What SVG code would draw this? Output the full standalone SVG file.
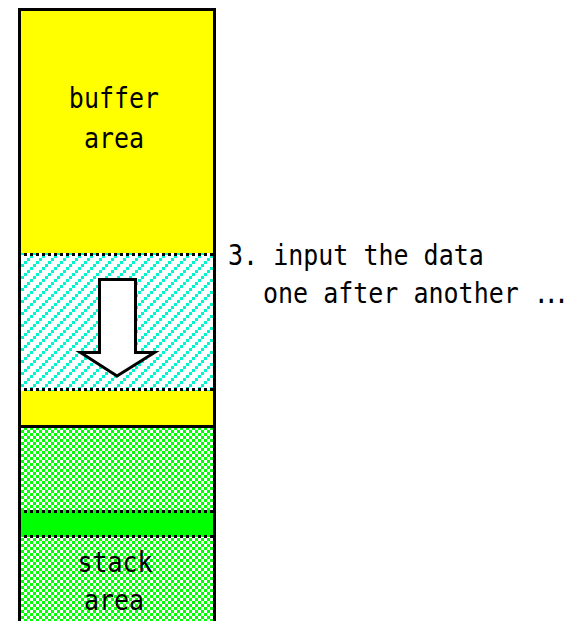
<svg xmlns="http://www.w3.org/2000/svg" width="572" height="621" viewBox="0 0 572 621">
  <defs>
    <!-- diagonal cyan hatching on white -->
    <pattern id="hatch" x="0" y="0" width="12" height="12" patternUnits="userSpaceOnUse">
      <rect width="12" height="12" fill="#ffffff"/>
      <g fill="#00f5cf">
        <rect x="0" y="9" width="3" height="3"/>
        <rect x="3" y="6" width="3" height="3"/>
        <rect x="6" y="3" width="3" height="3"/>
        <rect x="9" y="0" width="3" height="3"/>
      </g>
    </pattern>
    <!-- green / white checker -->
    <pattern id="checker" x="0" y="1" width="6" height="6" patternUnits="userSpaceOnUse">
      <rect width="6" height="6" fill="#ffffff"/>
      <g fill="#00ff00">
        <rect x="0" y="0" width="3" height="3"/>
        <rect x="3" y="3" width="3" height="3"/>
      </g>
    </pattern>
  </defs>
  <style>
    .label { font-family: "DejaVu Sans Mono", "Liberation Mono", monospace; font-size: 25px; fill: #000000; }
    .mid { text-anchor: middle; }
    .dots { fill: none; stroke: #000000; stroke-width: 3; stroke-dasharray: 3 3; }
    .vdots { fill: none; stroke: #000000; stroke-width: 3; stroke-dasharray: 4 4; }
    .edge { fill: none; stroke: #000000; stroke-width: 3; }
  </style>

  <rect width="572" height="621" fill="#ffffff"/>

  <!-- upper part of the memory column -->
  <g id="buffer-area">
    <rect x="21" y="11" width="192" height="414" fill="#ffff00"/>
    <text class="label mid" transform="translate(114,108) scale(1,1.12)">buffer</text>
    <text class="label mid" transform="translate(114,148) scale(1,1.12)">area</text>
  </g>

  <!-- region being filled with incoming data -->
  <g id="input-region">
    <rect x="18" y="253" width="195" height="138" fill="url(#hatch)"/>
    <line class="dots" x1="18" y1="254.5" x2="213" y2="254.5"/>
    <line class="dots" x1="18" y1="389.5" x2="213" y2="389.5"/>
  </g>

  <!-- lower part of the memory column -->
  <g id="stack-area">
    <rect x="21" y="428" width="192" height="193" fill="url(#checker)"/>
    <text class="label mid" transform="translate(115,572) scale(1,1.12)">stack</text>
    <text class="label mid" transform="translate(114,610) scale(1,1.12)">area</text>
  </g>

  <!-- solid band inside the stack area -->
  <g id="used-band">
    <rect x="18" y="510" width="195" height="27" fill="#00ff00"/>
    <line class="dots" x1="18" y1="511.5" x2="213" y2="511.5"/>
    <line class="dots" x1="18" y1="536.5" x2="213" y2="536.5"/>
  </g>

  <!-- column outline -->
  <g id="column-frame">
    <path class="edge" d="M19.5,621 V253 M19.5,391 V510 M19.5,538 V621"/>
    <path class="edge" d="M19.5,253 V9.5 H214.5 V621"/>
    <line class="vdots" x1="19.5" y1="256" x2="19.5" y2="388"/>
    <line class="vdots" x1="19.5" y1="512" x2="19.5" y2="536"/>
    <line class="edge" x1="18" y1="426.5" x2="216" y2="426.5"/>
  </g>

  <!-- downward arrow showing fill direction -->
  <g id="connectors">
    <polygon points="99.5,279.5 135.5,279.5 135.5,352.5 154.5,352.5 117,376 80.5,352.5 99.5,352.5"
             fill="#ffffff" stroke="#000000" stroke-width="3" stroke-linejoin="miter"/>
  </g>

  <!-- side note -->
  <g id="caption">
    <text class="label" transform="translate(228,265) scale(1,1.12)">3. input the data</text>
    <text class="label" transform="translate(263,303) scale(1,1.12)">one after another <tspan letter-spacing="-5">...</tspan></text>
  </g>
</svg>
